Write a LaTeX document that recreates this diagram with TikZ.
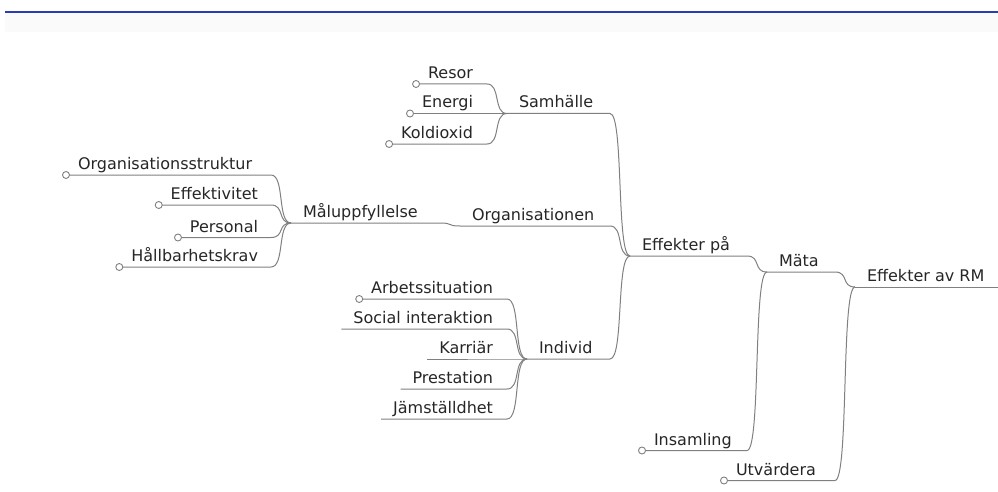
\documentclass[tikz,border=0pt]{standalone}
\usepackage{fontspec}
\setsansfont{DejaVu Sans}
\usetikzlibrary{calc}
\definecolor{rulerblue}{RGB}{42,60,180}
\definecolor{branchgray}{RGB}{128,128,128}
\tikzstyle{topic}=[font=\sffamily\fontsize{16}{19}\selectfont,text=black!85,
  inner xsep=12pt,inner ysep=5.5pt,text height=12pt,text depth=0pt,outer sep=0pt]
\tikzstyle{branch}=[draw=branchgray,line width=1pt]
\tikzstyle{knob}=[draw=branchgray,fill=white,line width=0.9pt]

\begin{document}
\begin{tikzpicture}[x=1pt,y=-1pt]
  \useasboundingbox (0,0) rectangle (998,492);

  % Title bar.
  \fill[black!2] (5,13) rectangle (998,32);
  \draw[rulerblue,line width=2pt] (5,12) -- (998,12);
  \coordinate (rim) at (998,0);

  % Root and its two branches.
  \node[topic,anchor=base west] (effav) at (855,281.5) {Effekter av RM};
  \node[topic,anchor=base west] (mata) at (767,266.5) {Mäta};
  \node[topic,anchor=base west] (utvardera) at (724,475) {Utvärdera};
  \node[topic,anchor=base west] (insamling) at (642,445) {Insamling};
  \node[topic,anchor=base west] (effpa) at (630,250.5) {Effekter på};

  % Effekter på.
  \node[topic,anchor=base west] (samhalle) at (507,108) {Samhälle};
  \node[topic,anchor=base west] (org) at (460,220.5) {Organisationen};
  \node[topic,anchor=base west] (individ) at (527,353.5) {Individ};

  % Samhälle.
  \node[topic,anchor=base east] (resor) at (485,78.5) {Resor};
  \node[topic,anchor=base east] (energi) at (485,108) {Energi};
  \node[topic,anchor=base east] (koldioxid) at (485,138.5) {Koldioxid};

  % Organisationen.
  \node[topic,anchor=base west] (malupp) at (291,217.5) {Måluppfyllelse};
  \node[topic,anchor=base west] (orgstruktur) at (66,169.5) {Organisationsstruktur};
  \node[topic,anchor=base east] (effektivitet) at (270,199.5) {Effektivitet};
  \node[topic,anchor=base east] (personal) at (270,232) {Personal};
  \node[topic,anchor=base east] (hallbarhet) at (270,261.5) {Hållbarhetskrav};

  % Individ.
  \node[topic,anchor=base east] (arbete) at (505,293.5) {Arbetssituation};
  \node[topic,anchor=base east] (social) at (505,323.5) {Social interaktion};
  \node[topic,anchor=base east] (karriar) at (505,353.5) {Karriär};
  \node[topic,anchor=base east] (prestation) at (505,383.5) {Prestation};
  \node[topic,anchor=base east] (jamstalldhet) at (505,413.5) {Jämställdhet};

  % Root underline.
  \draw[branch] (effav.south west) -- (effav.south west -| rim);

  % Branches, child to parent.
  \foreach \kid/\mom in {mata/effav,utvardera/effav,effpa/mata,insamling/mata,
      samhalle/effpa,org/effpa,individ/effpa,
      resor/samhalle,energi/samhalle,koldioxid/samhalle,
      malupp/org,orgstruktur/malupp,effektivitet/malupp,personal/malupp,hallbarhet/malupp,
      arbete/individ,social/individ,karriar/individ,prestation/individ,jamstalldhet/individ}
    \draw[branch] (\kid.south west)
      -- ($(\mom.south west |- \kid.south)+(-20,0)$)
      .. controls ($(\mom.south west |- \kid.south)+(-6,0)$)
      and ($(\mom.south west)+(-14,0)$) .. (\mom.south west);

  % Open ends of the leaves.
  \foreach \leaf in {resor,energi,koldioxid,orgstruktur,effektivitet,personal,
      hallbarhet,arbete,insamling,utvardera}
    \draw[knob] (\leaf.south west) circle [radius=3.5pt];
\end{tikzpicture}
\end{document}
